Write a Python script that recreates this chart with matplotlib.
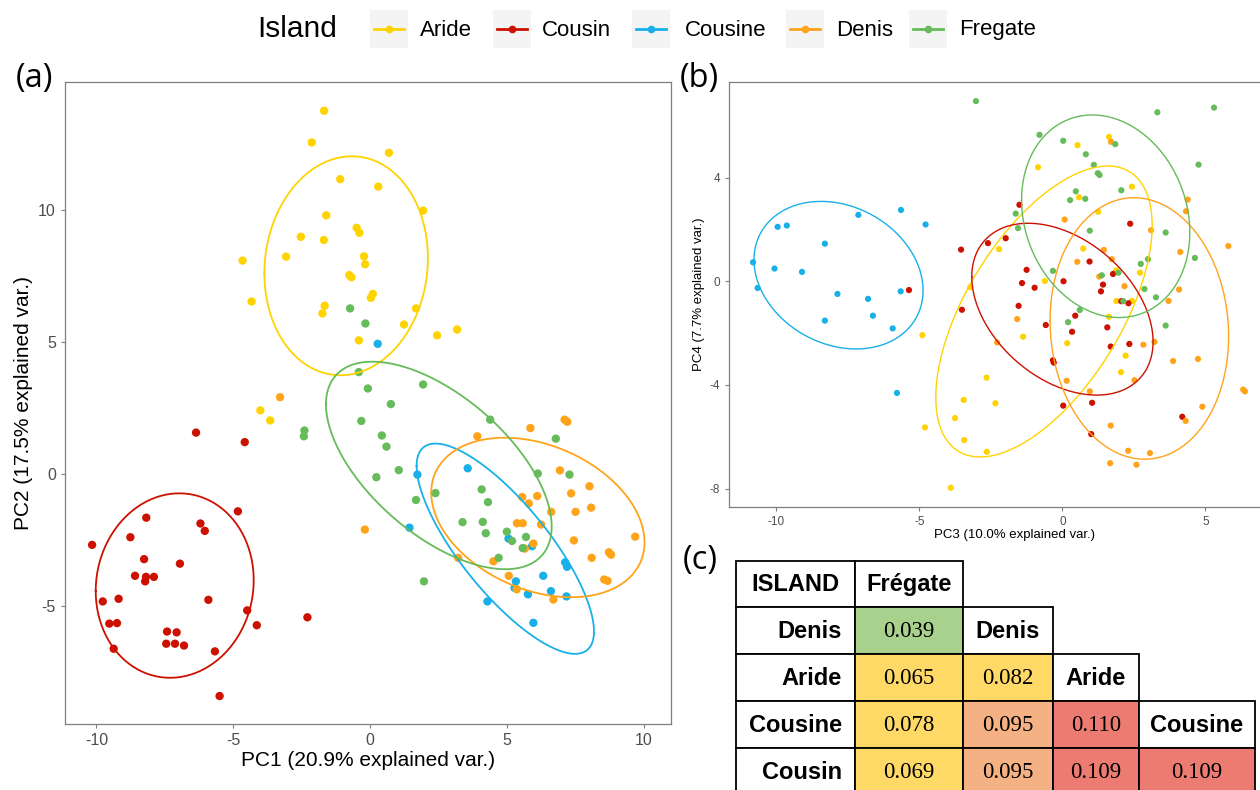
import numpy as np
import matplotlib
matplotlib.use('Agg')
import matplotlib.pyplot as plt
from matplotlib.patches import Rectangle
from matplotlib.lines import Line2D

islands = ['Aride', 'Cousin', 'Cousine', 'Denis', 'Fregate']
island_colors = ['#FFD300', '#CC1100', '#18B0E8', '#FFA31A', '#66BB5A']

# panel (a): PC1 / PC2 scores
aride_pc12 = [(-1.68, 13.76), (-2.13, 12.56), (-1.09, 11.17), (0.30, 10.89), (-1.60, 9.80),
              (-0.49, 9.33), (-0.39, 9.14), (-2.53, 8.99), (-1.69, 8.87), (-4.66, 8.09),
              (-3.07, 8.24), (-0.22, 8.25), (-0.18, 7.95), (-0.76, 7.54), (-0.68, 7.46),
              (0.10, 6.83), (0.03, 6.68), (-4.33, 6.54), (-1.66, 6.38), (-1.74, 6.09),
              (-0.41, 5.07), (0.69, 12.17), (1.94, 9.98), (1.68, 6.28), (1.24, 5.67),
              (2.45, 5.26), (3.18, 5.48), (-4.01, 2.42), (-3.65, 2.04)]
cousin_pc12 = [(-6.36, 1.58), (-4.58, 1.22), (-4.83, -1.40), (-8.18, -1.64), (-6.20, -1.86),
               (-6.04, -2.14), (-8.76, -2.38), (-10.16, -2.67), (-8.26, -3.21), (-6.95, -3.38),
               (-8.59, -3.84), (-8.19, -3.88), (-7.90, -3.88), (-8.22, -4.05), (-9.77, -4.81),
               (-9.19, -4.71), (-5.91, -4.75), (-4.49, -5.15), (-2.29, -5.41), (-9.53, -5.65),
               (-9.25, -5.63), (-4.14, -5.71), (-7.42, -5.95), (-7.07, -5.98), (-9.37, -6.60),
               (-7.45, -6.41), (-7.13, -6.41), (-6.80, -6.48), (-5.67, -6.70), (-5.50, -8.39)]
cousine_pc12 = [(0.28, 4.94), (3.57, 0.23), (1.73, -0.01), (1.44, -2.02), (5.06, -2.43),
                (5.92, -2.72), (7.13, -3.33), (7.20, -3.50), (6.33, -3.84), (5.33, -4.05),
                (5.28, -4.30), (6.61, -4.42), (5.77, -4.54), (7.18, -4.62), (4.29, -4.81),
                (5.97, -5.62)]
denis_pc12 = [(-3.29, 2.92), (7.11, 2.07), (7.21, 1.99), (5.86, 1.75), (3.92, 1.44),
              (6.94, 0.15), (8.02, -0.45), (7.35, -0.72), (5.56, -0.86), (6.11, -0.82),
              (5.80, -1.10), (6.62, -1.42), (7.51, -1.42), (8.08, -1.26), (-0.19, -2.09),
              (5.37, -1.85), (5.58, -1.85), (6.25, -1.90), (9.69, -2.36), (7.45, -2.50),
              (5.97, -2.62), (5.66, -2.81), (8.10, -3.16), (8.73, -2.95), (8.81, -3.04),
              (3.22, -3.16), (4.51, -3.29), (5.07, -3.84), (5.36, -4.35), (8.56, -3.98),
              (8.68, -4.03), (6.70, -4.74)]
fregate_pc12 = [(-0.73, 6.28), (-0.17, 5.71), (-0.41, 3.87), (-0.08, 3.25), (-2.40, 1.66),
                (-2.42, 1.44), (1.94, 3.40), (0.76, 2.66), (-0.32, 2.02), (4.39, 2.07),
                (0.43, 1.47), (0.60, 1.05), (6.79, 1.35), (1.05, 0.16), (0.23, -0.11),
                (6.13, 0.03), (7.29, -0.01), (2.39, -0.71), (1.68, -0.97), (4.08, -0.57),
                (4.31, -1.05), (3.38, -1.81), (4.12, -1.80), (4.23, -2.23), (5.00, -2.17),
                (5.19, -2.52), (5.70, -2.37), (5.58, -2.79), (4.70, -3.16), (1.97, -4.05)]

# panel (b): PC3 / PC4 scores
aride_pc34 = [(-3.22, -0.23), (-4.89, -2.08), (-3.45, -4.58), (-3.75, -5.28), (-4.80, -5.64),
              (-3.43, -6.13), (-3.90, -7.97), (1.63, 5.57), (0.53, 5.25), (-0.85, 4.40),
              (2.43, 3.65), (0.58, 3.24), (1.25, 2.68), (-2.21, 1.24), (0.73, 1.26),
              (-0.61, 0.01), (1.88, 0.42), (2.71, 0.33), (1.89, -0.76), (2.43, -0.76),
              (1.63, -1.37), (-1.37, -2.14), (0.17, -2.39), (2.21, -2.87), (2.05, -3.51),
              (-2.65, -3.72), (-2.34, -4.71), (-2.64, -6.58)]
cousin_pc34 = [(-5.36, -0.34), (-3.54, 1.22), (-3.51, -1.10), (-1.50, 2.95), (-2.60, 1.47),
               (-1.98, 1.66), (2.37, 2.22), (0.95, 0.76), (-1.25, 0.44), (1.77, 0.28),
               (-1.41, -0.07), (-0.97, -0.25), (0.04, 0.00), (1.42, -0.13), (1.35, -0.39),
               (-1.53, -0.95), (2.06, -0.77), (2.31, -0.85), (0.45, -1.33), (-0.58, -1.69),
               (0.34, -1.95), (1.57, -1.78), (1.69, -2.52), (2.34, -2.42), (-0.33, -3.05),
               (-0.30, -3.14), (0.03, -4.80), (1.04, -4.69), (1.01, -5.90), (4.19, -5.23)]
cousine_pc34 = [(-10.81, 0.73), (-10.65, -0.26), (-9.95, 2.10), (-9.63, 2.15), (-10.06, 0.49),
                (-9.10, 0.36), (-8.30, 1.45), (-7.13, 2.56), (-5.64, 2.75), (-4.78, 2.19),
                (-7.86, -0.49), (-6.79, -0.68), (-6.62, -1.33), (-8.30, -1.52), (-5.93, -1.82),
                (-5.65, -0.39), (-5.78, -4.31)]
denis_pc34 = [(1.70, 5.38), (4.38, 3.15), (4.32, 2.70), (0.08, 2.38), (3.10, 1.97),
              (5.80, 1.36), (4.12, 1.13), (1.45, 1.21), (0.52, 0.75), (1.73, 0.85),
              (1.29, 0.18), (2.17, -0.19), (4.08, -0.32), (3.71, -0.76), (-1.58, -1.46),
              (-2.28, -2.36), (2.83, -2.45), (3.22, -2.34), (3.87, -3.08), (4.74, -3.00),
              (0.15, -3.84), (2.52, -3.82), (6.32, -4.18), (6.38, -4.25), (4.89, -4.84),
              (4.31, -5.39), (1.69, -5.57), (2.30, -6.54), (3.06, -6.63), (1.67, -7.02),
              (2.59, -7.08), (0.96, -4.25)]
fregate_pc34 = [(-3.02, 6.95), (3.32, 6.52), (5.30, 6.70), (-0.80, 5.65), (0.03, 5.42),
                (1.85, 5.29), (0.82, 4.90), (1.10, 4.49), (1.24, 4.17), (1.30, 4.10),
                (4.76, 4.50), (2.06, 3.51), (0.47, 3.47), (0.27, 3.13), (0.80, 3.18),
                (-1.63, 2.61), (-1.55, 2.05), (0.96, 1.95), (3.61, 1.88), (4.63, 0.90),
                (2.99, 0.85), (2.74, 0.67), (-0.33, 0.40), (1.38, 0.23), (1.96, 0.33),
                (2.87, -0.30), (3.27, -0.62), (2.13, -0.77), (0.61, -1.11), (0.20, -1.58),
                (3.61, -1.71)]

# panel (c): pairwise Fst table
fst_cols = ['Frégate', 'Denis', 'Aride', 'Cousine']
fst_rows = ['Denis', 'Aride', 'Cousine', 'Cousin']
fst_denis = [0.039]
fst_aride = [0.065, 0.082]
fst_cousine = [0.078, 0.095, 0.110]
fst_cousin = [0.069, 0.095, 0.109, 0.109]

ELLIPSE_PROB = 0.68


def ellipse_xy(pts, prob=ELLIPSE_PROB, n=100):
    pts = np.asarray(pts)
    mu = pts.mean(axis=0)
    sigma = np.cov(pts.T)
    r = np.sqrt(-2 * np.log(1 - prob))  # chi2 quantile, 2 df
    t = np.linspace(-np.pi, np.pi, n)
    circle = np.column_stack([np.cos(t), np.sin(t)])
    L = np.linalg.cholesky(sigma)
    return circle @ L.T * r + mu


def style_axes(ax, tick_size):
    for s in ax.spines.values():
        s.set_color('#7F7F7F')
        s.set_linewidth(0.9)
    ax.tick_params(direction='out', length=3, width=0.8, color='#7F7F7F',
                   labelcolor='#4D4D4D', labelsize=tick_size)


def draw_pca(ax, groups, size, lw):
    for pts, col in zip(groups, island_colors):
        pts = np.asarray(pts)
        ax.scatter(pts[:, 0], pts[:, 1], s=size, color=col, edgecolors='none', zorder=2)
    for pts, col in zip(groups, island_colors):
        e = ellipse_xy(pts)
        ax.plot(e[:, 0], e[:, 1], color=col, lw=lw, zorder=3)


W, H = 1260, 790
plt.rcParams['font.family'] = ['Liberation Sans', 'DejaVu Sans']
plt.rcParams['axes.unicode_minus'] = False
fig = plt.figure(figsize=(W / 100, H / 100), dpi=100)

# ---------------- panel (a) ----------------
ax_a = fig.add_axes([65 / W, 1 - 724.3 / H, 606 / W, 642.6 / H])
draw_pca(ax_a, [aride_pc12, cousin_pc12, cousine_pc12, denis_pc12, fregate_pc12], 36, 1.3)
ax_a.set_xlim(-11.15, 11.0)
ax_a.set_ylim(-9.46, 14.86)
ax_a.set_xticks([-10, -5, 0, 5, 10])
ax_a.set_yticks([-5, 0, 5, 10])
style_axes(ax_a, 11.5)
ax_a.set_xlabel('PC1 (20.9% explained var.)', fontsize=15, labelpad=2)
ax_a.set_ylabel('PC2 (17.5% explained var.)', fontsize=15, labelpad=4)

# ---------------- panel (b) ----------------
ax_b = fig.add_axes([729 / W, 1 - 506.7 / H, 570 / W, 425 / H])
draw_pca(ax_b, [aride_pc34, cousin_pc34, cousine_pc34, denis_pc34, fregate_pc34], 20, 1.0)
ax_b.set_xlim(-11.65, 8.27)
ax_b.set_ylim(-8.7, 7.7)
ax_b.set_xticks([-10, -5, 0, 5])
ax_b.set_yticks([-8, -4, 0, 4])
style_axes(ax_b, 8.5)
ax_b.set_xlabel('PC3 (10.0% explained var.)', fontsize=9.5, labelpad=1)
ax_b.set_ylabel('PC4 (7.7% explained var.)', fontsize=9.5, labelpad=3)

# ---------------- overlay: legend, labels, table ----------------
ov = fig.add_axes([0, 0, 1, 1])
ov.set_xlim(0, W)
ov.set_ylim(H, 0)
ov.axis('off')
ov.patch.set_visible(False)

ov.text(297, 29, 'Island', fontsize=21.5, ha='center', va='center')
key_x = [389, 511.5, 650.5, 805, 927.5]
text_x = [420, 542, 684.5, 836, 959]
for name, col, kx, tx in zip(islands, island_colors, key_x, text_x):
    ov.add_patch(Rectangle((kx - 19, 10), 38, 38, facecolor='#F4F4F4', edgecolor='none'))
    ov.add_line(Line2D([kx - 15, kx + 15], [29, 29], color=col, lw=2))
    ov.plot(kx, 29, 'o', color=col, markersize=5.5, markeredgewidth=0)
    ov.text(tx, 30, name, fontsize=16, ha='left', va='center')

for lab, x, y in [('(a)', 34, 78), ('(b)', 699, 78), ('(c)', 700, 561)]:
    ov.text(x, y, lab, fontsize=23.5, ha='center', va='center',
            family=['Open Sans', 'DejaVu Sans'])

col_edges = [736, 855, 963, 1053, 1139, 1255]
row_top = 560.5
row_h = 46.8


def fst_color(v):
    if v < 0.05:
        return '#A9D18E'
    if v < 0.09:
        return '#FFD966'
    if v < 0.1:
        return '#F4B183'
    return '#EC7C72'


def cell(r, c, txt, face='white', bold=True, align='center'):
    x0, x1 = col_edges[c], col_edges[c + 1]
    y0 = row_top + r * row_h
    ov.add_patch(Rectangle((x0, y0), x1 - x0, row_h, facecolor=face,
                           edgecolor='black', lw=1.3, clip_on=False))
    yc = y0 + row_h / 2 + 1
    if bold:
        kw = dict(fontsize=17, fontweight='bold', family=['Liberation Sans', 'DejaVu Sans'])
    else:
        kw = dict(fontsize=16.5, family=['Liberation Serif', 'DejaVu Serif'])
    if align == 'right':
        ov.text(x1 - 13, yc, txt, ha='right', va='center', **kw)
    else:
        ov.text((x0 + x1) / 2, yc, txt, ha='center', va='center', **kw)


cell(0, 0, 'ISLAND')
cell(0, 1, fst_cols[0])
for i, (rname, vals) in enumerate(zip(fst_rows, [fst_denis, fst_aride, fst_cousine, fst_cousin])):
    r = i + 1
    cell(r, 0, rname, align='right')
    for j, v in enumerate(vals):
        cell(r, j + 1, f'{v:.3f}', face=fst_color(v), bold=False)
    if len(vals) < len(fst_cols):
        cell(r, len(vals) + 1, fst_cols[len(vals)])

fig.savefig('out.png', dpi=100, facecolor='white')
